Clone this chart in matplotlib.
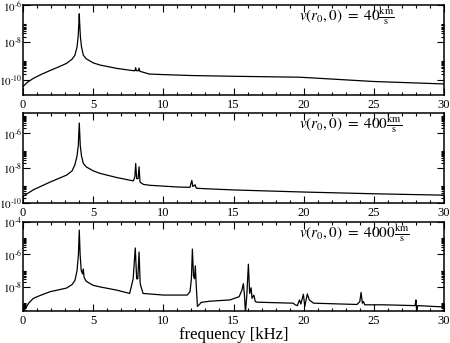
import matplotlib
matplotlib.use("Agg")
import matplotlib.pyplot as plt
import numpy as np
from matplotlib.ticker import FixedLocator, FuncFormatter, MultipleLocator

plt.rcParams["font.family"] = "Liberation Serif"
plt.rcParams["mathtext.fontset"] = "stix"

# ---- data: frequency [kHz], log10(amplitude) ----
f_40 = [0.0, 0.3, 0.74, 1.3, 1.9, 2.5, 3.1, 3.5, 3.7, 3.85, 3.93, 3.98, 4.01,
        4.04, 4.09, 4.17, 4.3, 4.5, 5.0, 5.5, 6.7, 7.86, 7.98, 8.03, 8.08, 8.22,
        8.27, 8.32, 9.0, 10.0, 12.0, 15.0, 19.74, 25.0, 30.0]
lg_40 = [-10.37, -10.15, -9.93, -9.72, -9.52, -9.33, -9.13, -8.9, -8.69, -8.25,
         -7.7, -7.0, -6.47, -7.0, -7.7, -8.25, -8.69, -8.88, -9.1, -9.22, -9.4,
         -9.52, -9.52, -9.36, -9.52, -9.52, -9.38, -9.55, -9.7, -9.73, -9.78,
         -9.82, -9.87, -10.1, -10.23]

f_400 = [0.0, 0.74, 1.92, 3.1, 3.5, 3.7, 3.85, 3.94, 4.01, 4.08, 4.17, 4.3,
         4.5, 5.0, 5.5, 6.7, 7.86, 7.97, 8.03, 8.1, 8.2, 8.27, 8.34, 8.58, 9.0,
         11.0, 11.9, 12.03, 12.1, 12.2, 12.26, 12.35, 13.0, 15.0, 20.0, 25.0, 30.0]
lg_400 = [-9.62, -9.24, -8.8, -8.4, -8.15, -7.8, -7.3, -6.7, -5.4, -6.7, -7.3,
          -7.73, -7.92, -8.15, -8.3, -8.54, -8.73, -8.5, -7.73, -8.6, -8.6, -7.92,
          -8.8, -8.93, -8.98, -9.08, -9.1, -8.7, -9.05, -9.0, -8.95, -9.15, -9.18,
          -9.25, -9.37, -9.47, -9.55]

f_4000 = [0.0, 0.1, 0.2, 0.4, 0.74, 1.3, 1.9, 3.1, 3.5, 3.7, 3.85, 3.95, 4.01,
          4.07, 4.15, 4.25, 4.3, 4.35, 4.5, 5.0, 5.5, 6.7, 7.6, 7.85, 8.0, 8.1,
          8.18, 8.27, 8.35, 8.55, 10.0, 11.7, 11.9, 12.0, 12.07, 12.15, 12.22,
          12.28, 12.35, 12.43, 12.55, 12.7, 13.3, 14.75, 15.4, 15.6, 15.7, 15.78,
          15.85, 15.95, 16.06, 16.15, 16.25, 16.32, 16.45, 16.55, 16.7, 19.25,
          19.4, 19.55, 19.7, 19.8, 19.98, 20.08, 20.26, 20.4, 20.7, 23.8, 24.0,
          24.09, 24.18, 24.26, 24.35, 25.7, 27.94, 28.0, 28.06, 28.12, 29.94]
lg_4000 = [-9.1, -9.4, -9.3, -9.0, -8.7, -8.5, -8.3, -8.07, -7.85, -7.6, -7.0,
           -6.0, -4.5, -6.0, -7.0, -7.2, -6.9, -7.4, -7.65, -7.9, -8.0, -8.2,
           -8.4, -7.5, -5.6, -7.5, -7.5, -5.85, -7.8, -8.4, -8.5, -8.5, -8.3,
           -7.5, -5.67, -7.3, -7.5, -6.7, -8.0, -9.2, -9.1, -8.95, -8.88, -8.8,
           -8.6, -8.2, -7.8, -8.5, -9.6, -8.5, -6.6, -8.4, -8.05, -8.7, -8.5,
           -8.9, -8.94, -9.0, -9.1, -9.15, -8.8, -9.05, -8.45, -9.2, -8.43, -8.8,
           -9.0, -9.08, -8.9, -8.34, -9.0, -8.9, -9.1, -9.1, -9.15, -8.8, -9.6,
           -9.15, -9.23]

labels = [r"$v(r_0,0)\ =\ 40\frac{\mathrm{km}}{\mathrm{s}}$",
          r"$v(r_0,0)\ =\ 400\frac{\mathrm{km}}{\mathrm{s}}$",
          r"$v(r_0,0)\ =\ 4000\frac{\mathrm{km}}{\mathrm{s}}$"]
ylims = [(1.5e-11, 1e-6), (1e-10, 1.5e-5), (3.3e-10, 1e-4)]
series = [(f_40, lg_40), (f_400, lg_400), (f_4000, lg_4000)]


def pow_label(v, pos):
    return r"$10^{\text{-}%d}$" % abs(round(np.log10(v)))


fig = plt.figure(figsize=(4.5, 3.43), dpi=100)
boxes = [(0.0511, 0.723, 0.9356, 0.2624),
         (0.0511, 0.4082, 0.9356, 0.2624),
         (0.0511, 0.0933, 0.9356, 0.2595)]

for box, (f, lg), lab, yl in zip(boxes, series, labels, ylims):
    ax = fig.add_axes(box)
    ax.plot(f, 10.0 ** np.array(lg), color="black", lw=0.9)
    ax.set_yscale("log")
    ax.set_xlim(0, 30)
    ax.set_ylim(*yl)

    ax.xaxis.set_major_locator(MultipleLocator(5))
    ax.xaxis.set_minor_locator(MultipleLocator(1))
    majors = [10.0 ** e for e in range(-12, -2, 2)]
    minors = [k * 10.0 ** e for e in range(-12, -2, 2) for k in range(2, 11)]
    ax.yaxis.set_major_locator(FixedLocator(majors))
    ax.yaxis.set_minor_locator(FixedLocator(minors))
    ax.yaxis.set_major_formatter(FuncFormatter(pow_label))
    ax.yaxis.set_minor_formatter(FuncFormatter(lambda v, p: ""))

    ax.tick_params(which="both", direction="in", top=True, right=True, width=0.8)
    ax.tick_params(axis="x", labelsize=9, pad=3)
    ax.tick_params(axis="y", labelsize=8, pad=0.5)
    ax.tick_params(which="major", length=5)
    ax.tick_params(which="minor", length=2.5)
    for s in ax.spines.values():
        s.set_linewidth(1.1)

    ax.text(0.655, 0.87, lab, transform=ax.transAxes, fontsize=11,
            ha="left", va="center")

fig.text(0.52, 0.024, "frequency [kHz]", ha="center", va="center", fontsize=12)

fig.savefig("out.png", dpi=100)
